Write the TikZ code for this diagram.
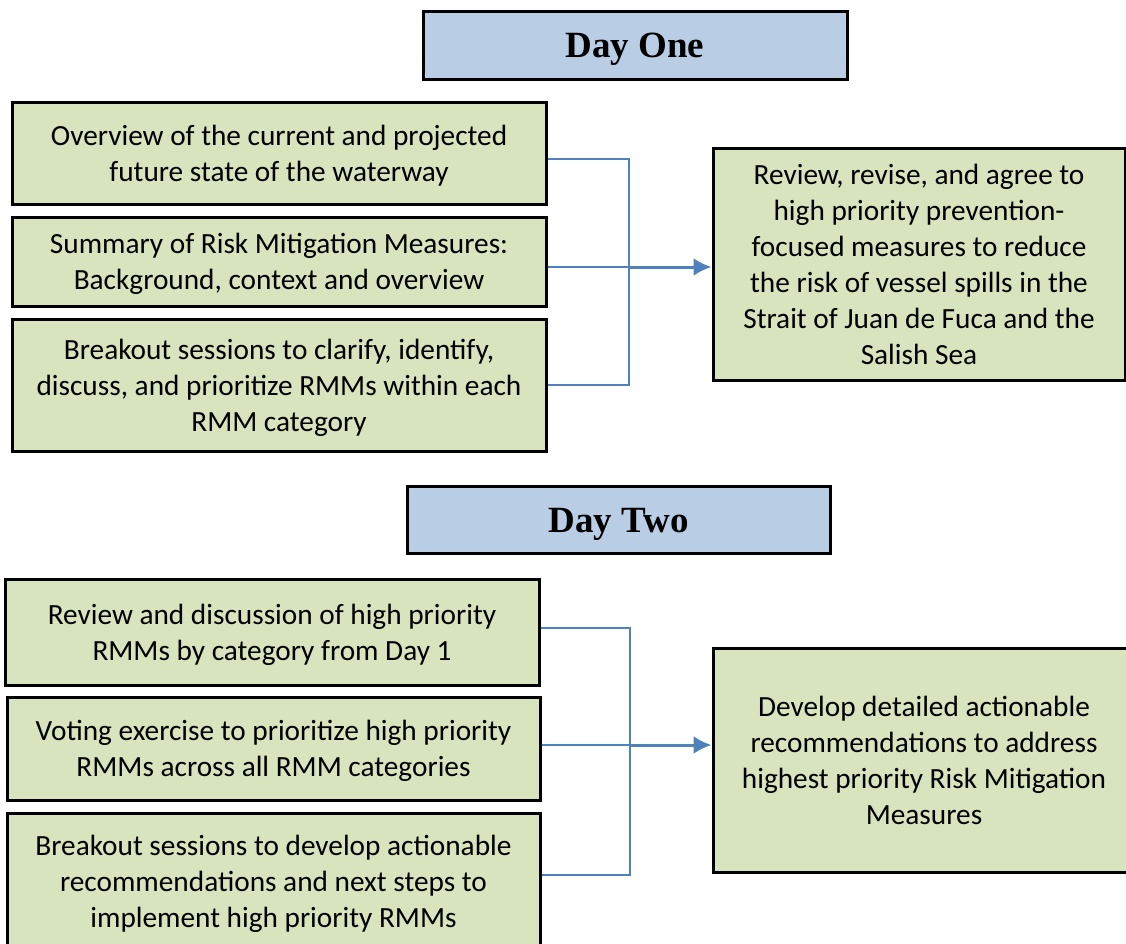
\documentclass[tikz,border=0pt]{standalone}
\usepackage{fontspec}
\setmainfont{Carlito}
\newfontfamily\dayfont{Liberation Serif}
\usepackage{xcolor}
\usetikzlibrary{arrows.meta}
\definecolor{boxgreen}{HTML}{D7E4BD}
\definecolor{dayblue}{HTML}{B9CDE5}
\definecolor{linkblue}{HTML}{4F81BD}

\begin{document}
\begin{tikzpicture}[x=1pt, y=-1pt,
		daybox/.style={draw, line width=3pt, fill=dayblue, inner sep=0pt, text depth=0pt, font=\dayfont\bfseries\fontsize{37}{44}\selectfont},
		stepbox/.style={draw, line width=3pt, fill=boxgreen, align=center, inner sep=0pt, text depth=0pt, font=\fontsize{29.3}{36}\selectfont},
		link/.style={draw=linkblue, line width=2pt},
		feed/.style={-{Latex[length=18pt, width=18pt]}, draw=linkblue, line width=3pt}]
				\clip (0, 0) rectangle (1126, 943);
				\node[daybox, minimum width=424pt, minimum height=68pt] (dayone) at (635, 45) {Day One};
				\node[stepbox, minimum width=534pt, minimum height=102pt] (a1) at (279, 153) {Overview of the current and projected\\future state of the waterway};
				\node[stepbox, minimum width=534pt, minimum height=89pt] (a2) at (279, 261.5) {Summary of Risk Mitigation Measures:\\Background, context and overview};
				\node[stepbox, minimum width=534pt, minimum height=132pt] (a3) at (279, 385) {Breakout sessions to clarify, identify,\\discuss, and prioritize RMMs within each\\RMM category};
				\node[stepbox, minimum width=412pt, minimum height=232pt] (goalone) at (919, 264) {Review, revise, and agree to\\high priority prevention-\\focused measures to reduce\\the risk of vessel spills in the\\Strait of Juan de Fuca and the\\Salish Sea};
				\path ([yshift=-5.5pt]a2.east) ++(81, 0) coordinate (j1);
				\draw[link] ([yshift=-6pt]a1.east) -| (j1) |- (a3.east);
				\draw[link] ([yshift=-5.5pt]a2.east) -- (j1);
				\draw[feed] (j1) -- (j1 -| goalone.west);
				\node[daybox, minimum width=423pt, minimum height=67pt] (daytwo) at (618.5, 520) {Day Two};
				\node[stepbox, minimum width=534pt, minimum height=106pt] (b1) at (272, 632) {Review and discussion of high priority\\RMMs by category from Day 1};
				\node[stepbox, minimum width=533pt, minimum height=103pt] (b2) at (273.5, 748.5) {Voting exercise to prioritize high priority\\RMMs across all RMM categories};
				\node[stepbox, minimum width=533pt, minimum height=136pt] (b3) at (273.5, 881) {Breakout sessions to develop actionable\\recommendations and next steps to\\implement high priority RMMs};
				\node[stepbox, minimum width=422pt, minimum height=224pt] (goaltwo) at (924, 760) {Develop detailed actionable\\recommendations to address\\highest priority Risk Mitigation\\Measures};
				\path ([yshift=3.5pt]b2.east) ++(88, 0) coordinate (j2);
				\draw[link] ([yshift=4pt]b1.east) -| (j2) |- ([yshift=6pt]b3.east);
				\draw[link] ([yshift=3.5pt]b2.east) -- (j2);
				\draw[feed] (j2) -- (j2 -| goaltwo.west);
			\end{tikzpicture}
\end{document}
